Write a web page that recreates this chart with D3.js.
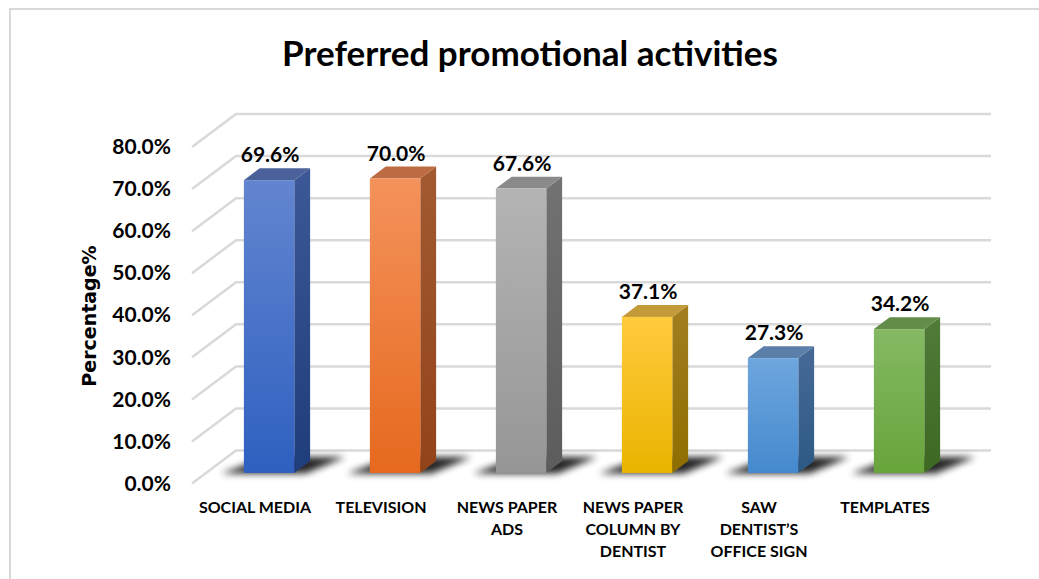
<!DOCTYPE html>
<html>
<head>
<meta charset="utf-8">
<script src="https://cdn.jsdelivr.net/npm/d3@7"></script>
<style>
  body { margin: 0; background: #fff; }
  text { font-family: Lato, "Open Sans", sans-serif; font-weight: bold; fill: #000; }
</style>
</head>
<body>
<div id="main"></div>
<script>
const categories = ["SOCIAL MEDIA", "TELEVISION", "NEWS PAPER ADS", "NEWS PAPER COLUMN BY DENTIST", "SAW DENTIST'S OFFICE SIGN", "TEMPLATES"];
const labelLines = [["SOCIAL MEDIA"], ["TELEVISION"], ["NEWS PAPER", "ADS"], ["NEWS PAPER", "COLUMN BY", "DENTIST"], ["SAW", "DENTIST\u2019S", "OFFICE SIGN"], ["TEMPLATES"]];
const values = [69.6, 70.0, 67.6, 37.1, 27.3, 34.2];
const yTicks = [0, 10, 20, 30, 40, 50, 60, 70, 80];

// front, side, top colours for each bar
const colors = [
  { top: "#6285d0", bottom: "#2f60c0", side1: "#3d5897", side2: "#1f3d7a", cap: "#4a6299" },
  { top: "#f4925b", bottom: "#e6691e", side1: "#a25a31", side2: "#93431a", cap: "#bd6b40" },
  { top: "#b4b4b4", bottom: "#969696", side1: "#727272", side2: "#5c5c5c", cap: "#8a8a8a" },
  { top: "#ffcb3e", bottom: "#ebb400", side1: "#a27e20", side2: "#8f6e00", cap: "#c49a39" },
  { top: "#6ea6de", bottom: "#4589ce", side1: "#476a97", side2: "#2d5985", cap: "#5b7fa8" },
  { top: "#85b963", bottom: "#68a43b", side1: "#517b39", side2: "#3c6821", cap: "#638c49" }
];

const width = 1039;
const height = 579;
const depth = { dx: 44, dy: -33 };
const barT = [0.32, 0.68];

const svg = d3.select("#main").append("svg").attr("width", width).attr("height", height);

// chart border
svg.append("rect")
  .attr("x", 10).attr("y", 9)
  .attr("width", 1100).attr("height", 700)
  .attr("fill", "none")
  .attr("stroke", "#d9d9d9")
  .attr("stroke-width", 2);

const x = d3.scaleBand()
  .domain(categories)
  .range([192, 948])
  .paddingInner(0.6)
  .paddingOuter(0.3);

const y = d3.scaleLinear().domain([0, 80]).range([483.5, 147]);

const off = (t) => [depth.dx * t, depth.dy * t];

svg.append("text")
  .attr("x", 530)
  .attr("y", 66)
  .attr("text-anchor", "middle")
  .style("font-size", "35px")
  .text("Preferred promotional activities");

// gridlines: side wall diagonal + back wall horizontal
const grid = svg.append("g").attr("stroke", "#d9d9d9").attr("stroke-width", 2.5).attr("fill", "none");
grid.selectAll("path")
  .data(yTicks)
  .enter()
  .append("path")
  .attr("d", (d) => {
    const fx = 192, fy = y(d);
    const bx = fx + depth.dx, by = fy + depth.dy;
    return `M${fx},${fy}L${bx},${by}L991,${by}`;
  });

// y axis labels
const yAxis = d3.axisLeft(y).tickValues(yTicks).tickSize(0).tickPadding(0).tickFormat((d) => d.toFixed(1) + "%");
const yg = svg.append("g").attr("transform", "translate(171,0)").call(yAxis);
yg.select(".domain").remove();
yg.selectAll("text")
  .style("font-size", "21px")
  .style("font-family", "Lato, sans-serif")
  .style("font-weight", "bold")
  .attr("fill", "#000");

svg.append("text")
  .attr("transform", "translate(96,316) rotate(-90)")
  .attr("text-anchor", "middle")
  .style("font-size", "19px")
  .style("font-family", "'DejaVu Sans', sans-serif")
  .text("Percentage%");

const defs = svg.append("defs");
defs.append("filter").attr("id", "blur")
  .attr("x", "-50%").attr("y", "-100%").attr("width", "200%").attr("height", "300%")
  .append("feGaussianBlur").attr("stdDeviation", 3.5);

colors.forEach((c, i) => {
  const g1 = defs.append("linearGradient").attr("id", "front" + i).attr("x1", 0).attr("y1", 0).attr("x2", 0).attr("y2", 1);
  g1.append("stop").attr("offset", "0%").attr("stop-color", c.top);
  g1.append("stop").attr("offset", "100%").attr("stop-color", c.bottom);
  const g2 = defs.append("linearGradient").attr("id", "side" + i).attr("x1", 0).attr("y1", 0).attr("x2", 0).attr("y2", 1);
  g2.append("stop").attr("offset", "0%").attr("stop-color", c.side1);
  g2.append("stop").attr("offset", "100%").attr("stop-color", c.side2);
});

const data = categories.map((c, i) => ({ cat: c, value: values[i], i: i }));

const bars = svg.selectAll(".bar").data(data).enter().append("g").attr("class", "bar");

const pt = (px, v, t) => {
  const o = off(t);
  return [px + o[0], y(v) + o[1]];
};
const poly = (pts) => "M" + pts.map((p) => p.join(",")).join("L") + "Z";

// floor shadow
bars.append("path")
  .attr("d", (d) => {
    const xl = x(d.cat), xr = xl + x.bandwidth();
    return poly([pt(xl - 22, 0, barT[0] - 0.02), pt(xr + 12, 0, barT[0] - 0.02), pt(xr + 30, 0, 0.8), pt(xl + 2, 0, 0.8)]);
  })
  .attr("fill", "#000")
  .attr("opacity", 0.85)
  .attr("filter", "url(#blur)");

// side face
bars.append("path")
  .attr("d", (d) => {
    const xr = x(d.cat) + x.bandwidth();
    return poly([pt(xr, d.value, barT[0]), pt(xr, d.value, barT[1]), pt(xr, 0, barT[1]), pt(xr, 0, barT[0])]);
  })
  .attr("fill", (d) => `url(#side${d.i})`);

// top face
bars.append("path")
  .attr("d", (d) => {
    const xl = x(d.cat), xr = xl + x.bandwidth();
    return poly([pt(xl, d.value, barT[0]), pt(xr, d.value, barT[0]), pt(xr, d.value, barT[1]), pt(xl, d.value, barT[1])]);
  })
  .attr("fill", (d) => colors[d.i].cap);

// front face
bars.append("rect")
  .attr("x", (d) => x(d.cat) + off(barT[0])[0])
  .attr("y", (d) => y(d.value) + off(barT[0])[1])
  .attr("width", x.bandwidth())
  .attr("height", (d) => y(0) - y(d.value))
  .attr("fill", (d) => `url(#front${d.i})`);

// value labels
bars.append("text")
  .attr("x", (d) => x(d.cat) + x.bandwidth() / 2 + off(barT[0])[0] + 1)
  .attr("y", (d) => y(d.value) + off(barT[1])[1] - 6)
  .attr("text-anchor", "middle")
  .style("font-size", "21px")
  .text((d) => d.value.toFixed(1) + "%");

// category labels
const catLabels = svg.selectAll(".cat").data(data).enter().append("text")
  .attr("class", "cat")
  .attr("text-anchor", "middle")
  .attr("transform", (d) => `translate(${x(d.cat) + x.bandwidth() / 2},513)`)
  .style("font-size", "16px");
catLabels.selectAll("tspan")
  .data((d) => labelLines[d.i])
  .enter()
  .append("tspan")
  .attr("x", 0)
  .attr("dy", (d, j) => (j === 0 ? 0 : 22))
  .text((d) => d);
</script>
</body>
</html>
